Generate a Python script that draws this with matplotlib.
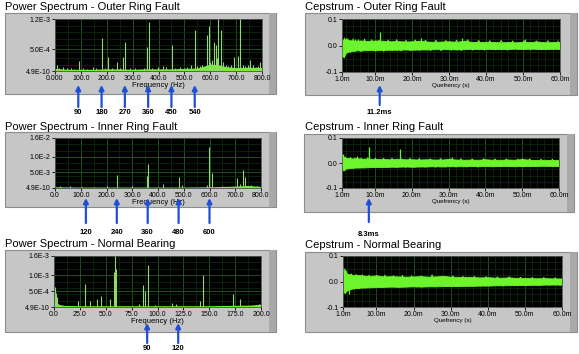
import matplotlib
matplotlib.use("Agg")
import matplotlib.pyplot as plt
from matplotlib.patches import Rectangle
from matplotlib.ticker import MultipleLocator

W, H = 579, 354

# ---- power spectra: peak frequency (Hz) / amplitude ----
outer_f = [6, 15, 32, 45, 60, 75, 94, 110, 125, 147, 160, 183, 195, 205, 220, 238, 250, 262, 272,
           290, 310, 330, 345, 354, 362, 375, 398, 417, 430, 451, 465, 483, 500, 510, 524, 540,
           550, 560, 570, 586, 596, 600, 605, 614, 621, 625, 631, 641, 650, 660, 670, 680, 692,
           706, 715, 725, 735, 745, 753, 765, 775, 785, 792]
outer_a = [1.5e-4, 8e-5, 1.0e-4, 6e-5, 7e-5, 5e-5, 2.3e-4, 6e-5, 5e-5, 9e-5, 6e-5, 7.7e-4, 7e-5,
           3.3e-4, 8e-5, 2.1e-4, 6e-5, 3.2e-4, 6.8e-4, 7e-5, 6e-5, 5e-5, 8e-5, 5.6e-4, 1.12e-3,
           7e-5, 1.0e-4, 1.2e-4, 9e-5, 6.0e-4, 7e-5, 1.0e-4, 8e-5, 9e-5, 1.5e-4, 9.5e-4, 1.1e-4,
           1.2e-4, 1.4e-4, 8.3e-4, 1.05e-3, 2.0e-4, 2.5e-4, 6.8e-4, 6.0e-4, 3.0e-4, 1.2e-3,
           9.5e-4, 2.0e-4, 1.5e-4, 1.2e-4, 1.5e-4, 3.3e-4, 3.5e-4, 1.2e-3, 1.4e-4, 1.2e-4, 1.3e-4,
           2.5e-4, 1.5e-4, 1.0e-4, 1.1e-4, 2.0e-4]
outer_floor_f = [0, 50, 100, 150, 200, 250, 300, 350, 400, 450, 500, 550, 580, 600, 630, 660, 700, 750, 800]
outer_floor_a = [6e-5, 4e-5, 4e-5, 4e-5, 5e-5, 5e-5, 4e-5, 5e-5, 5e-5, 5e-5, 6e-5, 7e-5, 1.2e-4,
                 1.6e-4, 1.5e-4, 1.0e-4, 8e-5, 9e-5, 8e-5]

inner_f = [19, 58, 105, 150, 200, 240, 300, 357, 360, 421, 480, 492, 589, 599, 611, 650, 708,
           720, 731, 738, 761, 785]
inner_a = [5e-4, 6e-4, 4e-4, 4e-4, 7e-4, 4.2e-3, 5e-4, 3.9e-3, 7.7e-3, 1.3e-3, 3.6e-3, 1.0e-3,
           1.0e-3, 1.32e-2, 4.7e-3, 6e-4, 3.1e-3, 1.2e-3, 5.8e-3, 3.5e-3, 1.0e-3, 6e-4]
inner_floor_f = [0, 100, 200, 300, 400, 500, 600, 700, 750, 800]
inner_floor_a = [4e-4, 3e-4, 3e-4, 3e-4, 3e-4, 3e-4, 4e-4, 6e-4, 8e-4, 5e-4]

normal_f = [1, 2, 3, 23, 30, 35, 42, 45, 54, 58, 59, 60, 82, 86, 88, 91, 98, 114, 118, 141, 144,
            173, 180, 198]
normal_a = [6.3e-4, 4.5e-4, 3e-4, 1.8e-4, 7.1e-4, 2e-4, 2.5e-4, 3.5e-4, 2.5e-4, 1.1e-3, 1.6e-3,
            1.2e-3, 1e-4, 6.8e-4, 5e-4, 1.31e-3, 5e-5, 1.2e-4, 1e-4, 2e-4, 1.01e-3, 4e-4, 2.5e-4, 8e-5]
normal_floor_f = [0, 2, 5, 10, 25, 50, 100, 150, 190, 200]
normal_floor_a = [3e-4, 1.5e-4, 8e-5, 5e-5, 4e-5, 4e-5, 4e-5, 4e-5, 6e-5, 9e-5]

# ---- cepstra: band envelope vs quefrency (ms), noise trace, spikes ----
ceps_q = [1, 1.5, 2, 3, 4, 5, 6, 8, 10, 12, 14, 16, 18, 20, 22, 24, 26, 28, 30, 32, 34, 36, 38,
          40, 42, 44, 46, 48, 50, 52, 54, 56, 58, 60]
outer_up = [0.02, 0.025, 0.022, 0.02, 0.019, 0.018, 0.019, 0.017, 0.019, 0.018, 0.016, 0.017,
            0.015, 0.016, 0.018, 0.015, 0.014, 0.015, 0.016, 0.014, 0.018, 0.014, 0.013, 0.014,
            0.013, 0.012, 0.013, 0.012, 0.014, 0.013, 0.015, 0.012, 0.013, 0.013]
outer_lo = [-0.03, -0.045, -0.028, -0.022, -0.02, -0.018, -0.019, -0.017, -0.018, -0.017,
            -0.016, -0.016, -0.015, -0.016, -0.015, -0.015, -0.014, -0.014, -0.014, -0.015,
            -0.014, -0.013, -0.014, -0.013, -0.013, -0.014, -0.013, -0.012, -0.013, -0.012,
            -0.013, -0.014, -0.012, -0.013]
inner_up = [0.03, 0.025, 0.02, 0.02, 0.018, 0.02, 0.017, 0.018, 0.016, 0.016, 0.015, 0.017,
            0.015, 0.015, 0.014, 0.015, 0.014, 0.014, 0.016, 0.014, 0.013, 0.014, 0.013, 0.015,
            0.013, 0.013, 0.014, 0.013, 0.016, 0.013, 0.012, 0.013, 0.012, 0.013]
inner_lo = [-0.028, -0.03, -0.022, -0.02, -0.019, -0.018, -0.018, -0.017, -0.016, -0.016,
            -0.015, -0.015, -0.014, -0.015, -0.014, -0.014, -0.013, -0.014, -0.013, -0.013,
            -0.013, -0.012, -0.013, -0.012, -0.013, -0.012, -0.012, -0.013, -0.012, -0.012,
            -0.012, -0.011, -0.012, -0.012]
normal_up = [0.045, 0.04, 0.03, 0.028, 0.025, 0.026, 0.024, 0.022, 0.024, 0.02, 0.021, 0.02,
             0.019, 0.02, 0.021, 0.019, 0.02, 0.022, 0.019, 0.018, 0.018, 0.017, 0.016, 0.017,
             0.015, 0.015, 0.016, 0.014, 0.014, 0.013, 0.013, 0.013, 0.012, 0.012]
normal_lo = [-0.04, -0.045, -0.035, -0.03, -0.026, -0.025, -0.024, -0.023, -0.022, -0.021,
             -0.02, -0.021, -0.02, -0.019, -0.02, -0.019, -0.019, -0.018, -0.018, -0.018,
             -0.017, -0.017, -0.016, -0.016, -0.015, -0.015, -0.014, -0.014, -0.014, -0.013,
             -0.013, -0.012, -0.012, -0.012]

noise_q = [1.3, 1.7, 2.0, 2.6, 3.3, 4.0, 4.5, 5.4, 6.2, 7.1, 8.0, 9.0, 10.1, 11.0, 12.3, 13.5,
           14.6, 15.8, 17.0, 18.3, 19.5, 20.8, 22.0, 23.6, 25.0, 26.4, 27.8, 29.1, 30.6, 32.0,
           33.3, 35.0, 36.4, 38.0, 39.5, 41.0, 42.6, 44.1, 45.7, 47.2, 48.8, 50.3, 52.0, 53.6,
           55.1, 56.7, 58.2, 59.5]
outer_noise = [-0.04, 0.028, -0.03, 0.025, -0.026, 0.025, -0.024, 0.022, -0.023, 0.024, -0.02,
               0.022, -0.021, 0.02, -0.022, 0.021, -0.02, 0.022, -0.021, 0.02, -0.02, 0.021,
               -0.019, 0.02, -0.019, 0.02, -0.02, 0.019, -0.018, 0.02, -0.019, 0.022, -0.018,
               0.019, -0.018, 0.018, -0.017, 0.019, -0.018, 0.017, -0.016, 0.018, -0.017, 0.017,
               -0.016, 0.018, -0.016, 0.017]
inner_noise = [0.03, -0.028, 0.024, -0.024, 0.022, -0.022, 0.02, -0.021, 0.02, -0.02, 0.021,
               -0.019, 0.02, -0.019, 0.019, -0.018, 0.019, -0.018, 0.018, -0.018, 0.019, -0.017,
               0.018, -0.017, 0.017, -0.017, 0.018, -0.016, 0.017, -0.016, 0.017, -0.016, 0.016,
               -0.016, 0.017, -0.015, 0.016, -0.015, 0.016, -0.015, 0.015, -0.015, 0.016, -0.014,
               0.015, -0.014, 0.015, -0.014]
normal_noise = [0.05, -0.045, 0.04, -0.035, 0.03, -0.03, 0.028, -0.027, 0.026, -0.025, 0.025,
                -0.024, 0.024, -0.023, 0.025, -0.022, 0.023, -0.022, 0.024, -0.021, 0.022, -0.021,
                0.022, -0.02, 0.026, -0.02, 0.021, -0.02, 0.022, -0.019, 0.02, -0.019, 0.02,
                -0.018, 0.019, -0.018, 0.018, -0.017, 0.018, -0.017, 0.017, -0.016, 0.016, -0.016,
                0.016, -0.015, 0.015, -0.015]

outer_spk_q = [1.3, 2.0, 4.5, 11.2, 22.3, 33.5, 50.5]
outer_spk_v = [-0.045, 0.03, 0.025, 0.05, 0.03, 0.028, 0.025]
inner_spk_q = [1.2, 5.0, 8.3, 16.7, 31.0, 50.0]
inner_spk_v = [0.035, 0.03, 0.065, 0.058, 0.025, 0.022]
normal_spk_q = [1.5, 2.5]
normal_spk_v = [0.05, -0.048]

# ---- labels ----
outer_marks = [90, 180, 270, 360, 450, 540]
inner_marks = [120, 240, 360, 480, 600]
normal_marks = [90, 120]

FONT = "Liberation Sans"
TRACE = "#6cf52c"
PEAK = "#93d86e"
ARROW = "#1f4fd6"

fig = plt.figure(figsize=(W / 100, H / 100), dpi=100)
fig.patch.set_facecolor("white")


def fy(y):
    return 1 - y / H


def frame(x0, y0, x1, y1):
    fig.patches.append(Rectangle((x0 / W, fy(y1)), (x1 - x0) / W, (y1 - y0) / H,
                                 transform=fig.transFigure, facecolor="#c6c6c6",
                                 edgecolor="#8c8c8c", lw=0.8, zorder=-2))
    fig.patches.append(Rectangle(((x1 - 7) / W, fy(y1)), 7 / W, (y1 - y0) / H,
                                 transform=fig.transFigure, facecolor="#a9a9a9",
                                 edgecolor="none", zorder=-1))


def panel(x0, y0, x1, y1):
    ax = fig.add_axes([x0 / W, fy(y1), (x1 - x0) / W, (y1 - y0) / H])
    ax.set_facecolor("black")
    for s in ax.spines.values():
        s.set_color("#505050")
        s.set_linewidth(0.6)
    ax.tick_params(which="major", direction="out", length=2, width=0.6, pad=1,
                   labelsize=5, colors="black")
    ax.tick_params(which="minor", length=0)
    ax.grid(which="major", color="#245c24", lw=0.6)
    ax.grid(which="minor", color="#0f2e0f", lw=0.5)
    ax.set_axisbelow(True)
    return ax


def title(x, y, text):
    fig.text(x / W, fy(y), text, fontsize=8, family=FONT, va="center", ha="left")


def arrows(ax, marks, tip, tail, lab, texts=None):
    for i, m in enumerate(marks):
        ax.annotate("", xy=(m, fy(tip)), xytext=(m, fy(tail)),
                    xycoords=("data", "figure fraction"), textcoords=("data", "figure fraction"),
                    arrowprops=dict(arrowstyle="-|>", color=ARROW, lw=1.6, mutation_scale=7,
                                    shrinkA=0, shrinkB=0), annotation_clip=False)
        ax.annotate(texts[i] if texts else str(m), xy=(m, fy(lab)),
                    xycoords=("data", "figure fraction"), ha="center", va="center",
                    fontsize=5.5, fontweight="bold", family=FONT, annotation_clip=False)


def spectrum(box, f, a, ff, fa, xmax, xstep, ymax, yticks, ylabels, xfmt):
    frame(*box[0])
    ax = panel(*box[1])
    ax.fill_between(ff, 0, fa, color=TRACE, lw=0, zorder=2)
    ax.vlines(f, 0, a, color=PEAK, lw=0.8, zorder=3)
    ax.set_xlim(0, xmax)
    ax.set_ylim(0, ymax)
    n = int(xmax / xstep) + 1
    ax.set_xticks([i * xstep for i in range(n)], [xfmt(i * xstep) for i in range(n)])
    ax.xaxis.set_minor_locator(MultipleLocator(xstep / 2))
    ax.set_yticks(yticks, ylabels)
    ax.set_yticks([ymax * k / 8 for k in range(9)], minor=True)
    ax.set_xlabel("Frequency (Hz)", fontsize=5.5, family=FONT, labelpad=0)
    for t in ax.get_xticklabels() + ax.get_yticklabels():
        t.set_fontfamily(FONT)
    return ax


def cepstrum(box, up, lo, nz, sq, sv):
    frame(*box[0])
    ax = panel(*box[1])
    ax.fill_between(ceps_q, lo, up, color=TRACE, lw=0.6, edgecolor=TRACE, zorder=2)
    ax.plot(noise_q, nz, color=TRACE, lw=0.7, zorder=3)
    ax.vlines(sq, 0, sv, color=TRACE, lw=0.9, zorder=3)
    ax.set_xlim(1, 60)
    ax.set_ylim(-0.1, 0.1)
    ax.set_xticks([1, 10, 20, 30, 40, 50, 60],
                  ["1.0m", "10.0m", "20.0m", "30.0m", "40.0m", "50.0m", "60.0m"])
    ax.xaxis.set_minor_locator(MultipleLocator(2))
    ax.set_yticks([-0.1, 0.0, 0.1], ["-0.1", "0.0", "0.1"])
    ax.yaxis.set_minor_locator(MultipleLocator(0.025))
    ax.set_xlabel("Quefrency (s)", fontsize=4.5, family=FONT, labelpad=0)
    for t in ax.get_xticklabels() + ax.get_yticklabels():
        t.set_fontfamily(FONT)
    return ax


# row 1
title(5, 7, "Power Spectrum - Outer Ring Fault")
ax = spectrum(((5, 13, 276, 94), (55, 19, 262, 71)), outer_f, outer_a, outer_floor_f, outer_floor_a,
              800, 100, 1.2e-3, [0, 5e-4, 1.2e-3], ["4.9E-10", "5.0E-4", "1.2E-3"],
              lambda v: "0.000" if v == 0 else f"{v:.1f}")
arrows(ax, outer_marks, 85, 107, 113)

title(305, 7, "Cepstrum - Outer Ring Fault")
ax = cepstrum(((305, 13, 577, 95), (342, 19, 560, 72)), outer_up, outer_lo, outer_noise,
              outer_spk_q, outer_spk_v)
arrows(ax, [11.2], 85, 105, 113, ["11.2ms"])

# row 2
title(5, 127, "Power Spectrum - Inner Ring Fault")
ax = spectrum(((5, 132, 276, 207), (55, 138, 261, 188)), inner_f, inner_a, inner_floor_f, inner_floor_a,
              800, 100, 1.6e-2, [0, 5e-3, 1e-2, 1.6e-2], ["4.9E-10", "5.0E-3", "1.0E-2", "1.6E-2"],
              lambda v: f"{v:.1f}")
arrows(ax, inner_marks, 198, 223, 232)

title(305, 127, "Cepstrum - Inner Ring Fault")
ax = cepstrum(((304, 134, 574, 212), (342, 138, 559, 188)), inner_up, inner_lo, inner_noise,
              inner_spk_q, inner_spk_v)
arrows(ax, [8.3], 198, 222, 234, ["8.3ms"])

# row 3
title(5, 244, "Power Spectrum - Normal Bearing")
ax = spectrum(((5, 250, 276, 332), (54, 256, 261, 307)), normal_f, normal_a, normal_floor_f, normal_floor_a,
              200, 25, 1.6e-3, [0, 5e-4, 1e-3, 1.6e-3], ["4.9E-10", "5.0E-4", "1.0E-3", "1.6E-3"],
              lambda v: f"{v:.1f}")
arrows(ax, normal_marks, 323, 343, 348)

title(305, 245, "Cepstrum - Normal Bearing")
cepstrum(((305, 252, 577, 332), (343, 256, 562, 307)), normal_up, normal_lo, normal_noise,
         normal_spk_q, normal_spk_v)

fig.savefig("out.png", dpi=100)
